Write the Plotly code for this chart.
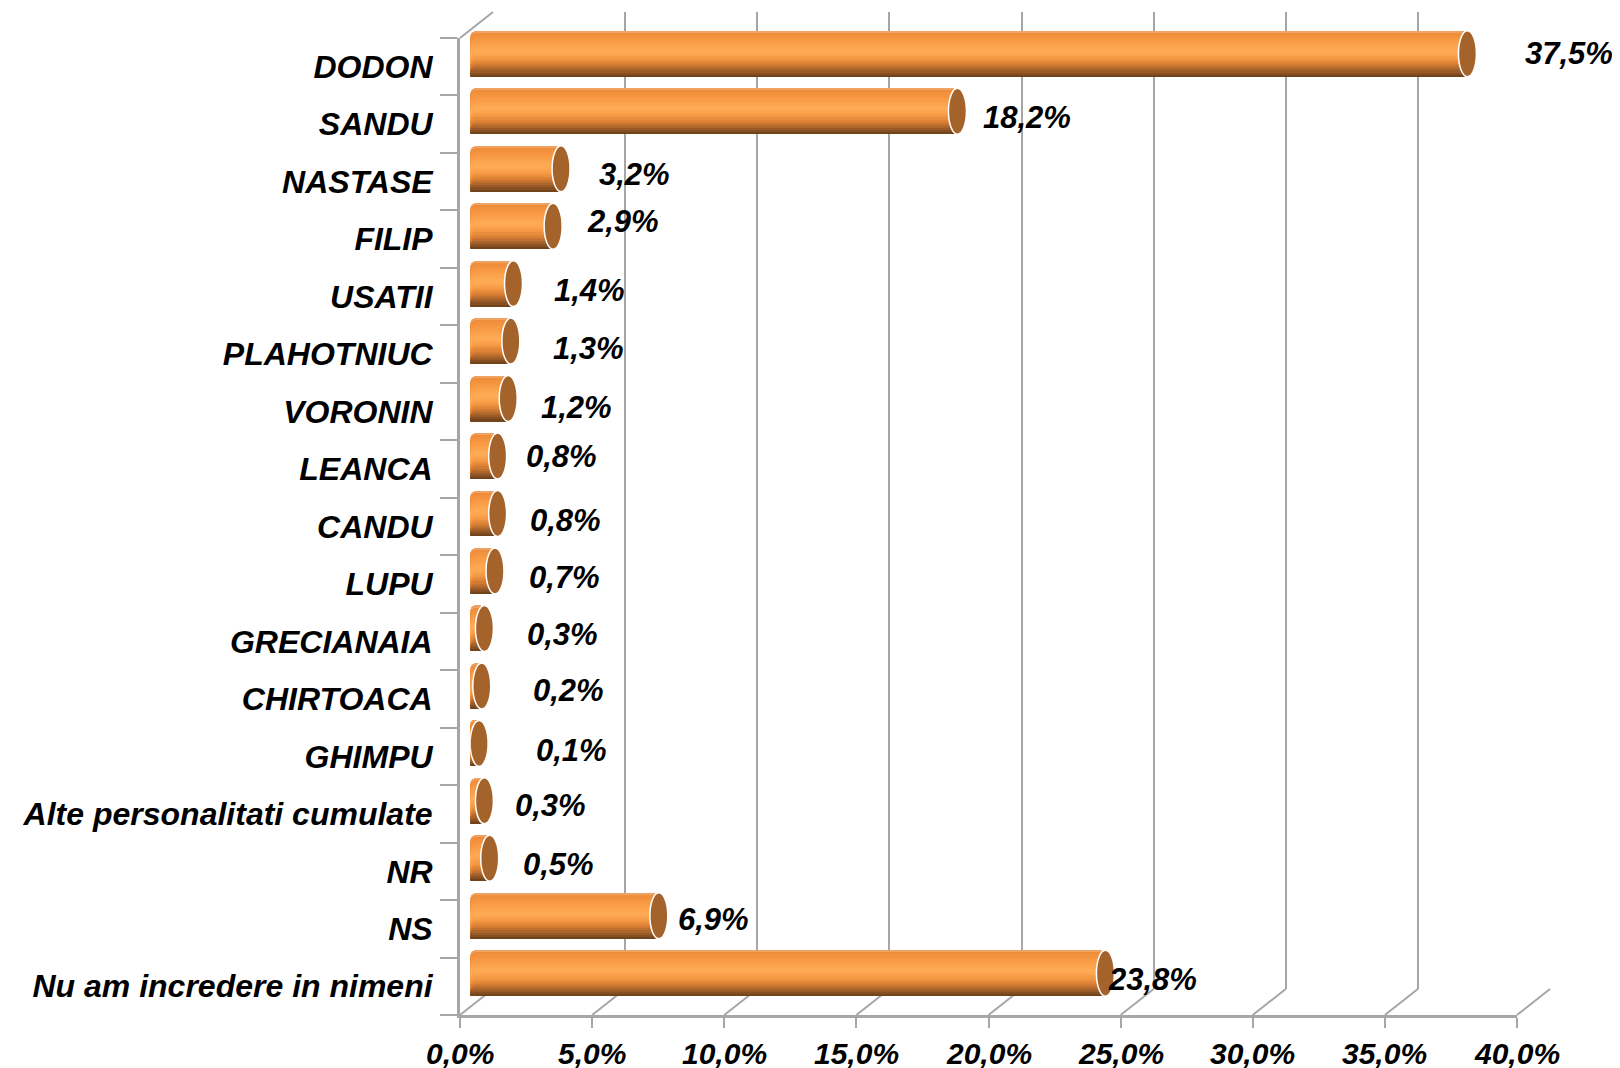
import plotly.graph_objects as go

# ---------------- data ----------------
categories = ["DODON", "SANDU", "NASTASE", "FILIP", "USATII", "PLAHOTNIUC",
              "VORONIN", "LEANCA", "CANDU", "LUPU", "GRECIANAIA", "CHIRTOACA",
              "GHIMPU", "Alte personalitati cumulate", "NR", "NS",
              "Nu am incredere in nimeni"]
values = [37.5, 18.2, 3.2, 2.9, 1.4, 1.3, 1.2, 0.8, 0.8, 0.7, 0.3, 0.2,
          0.1, 0.3, 0.5, 6.9, 23.8]
value_labels = ["37,5%", "18,2%", "3,2%", "2,9%", "1,4%", "1,3%", "1,2%",
                "0,8%", "0,8%", "0,7%", "0,3%", "0,2%", "0,1%", "0,3%",
                "0,5%", "6,9%", "23,8%"]
x_ticks = [0, 5, 10, 15, 20, 25, 30, 35, 40]
x_tick_labels = ["0,0%", "5,0%", "10,0%", "15,0%", "20,0%", "25,0%",
                 "30,0%", "35,0%", "40,0%"]

# ---------------- layout helpers (pixels of the browser window) ----------------
W, H = 1620, 1068
PAGE = 8                    # default body margin of the html page
FX0, FX1 = 460, 1517        # front plane x for 0 .. 40
FY0, FY1 = 38, 1015         # front plane top / bottom
DX, DY = 33, -26            # depth offset to back plane
TICK_LABEL_Y = 1053
XMAX = 40
N = len(categories)
BAR_START = -0.24           # cylinder's rounded back end sticks out a little
UNIT = (FX1 - FX0) / XMAX   # px per percentage point
# label nudges (layout only)
label_gap = [56, 24, 36, 32, 39, 40, 31, 26, 30, 32, 41, 49, 55, 29, 31, 17, 1]
label_dy = [0, -6, -6, 5, -7, -7, -9, 0, -7, -7, -6, -5, -7, -5, -6, -4, -6]

FONT = "Liberation Sans, Arial, sans-serif"
GRID = "#A6A6A6"


def px(x):
    return (x - PAGE) / W


def py(y):
    return 1 - (y - PAGE) / H


def front_x(v):
    return FX0 + v * UNIT


fig = go.Figure()

ys = list(range(N))

# invisible anchor traces so that the front and back axes get drawn
fig.add_trace(go.Scatter(x=[0], y=[0], xaxis="x", yaxis="y", mode="markers",
                         marker=dict(opacity=0), hoverinfo="skip", showlegend=False))
fig.add_trace(go.Scatter(x=[0], y=[0], xaxis="x2", yaxis="y2", mode="markers",
                         marker=dict(opacity=0), hoverinfo="skip", showlegend=False))

# ---------- cylinder bars: overlay slices for a vertical gradient ----------
stops = [(0.00, (238, 176, 125)), (0.06, (238, 140, 58)), (0.25, (250, 156, 70)),
         (0.45, (255, 172, 88)), (0.60, (246, 154, 68)), (0.75, (210, 122, 50)),
         (0.88, (156, 92, 40)), (1.00, (104, 62, 24))]


def color_at(t):
    for (t0, c0), (t1, c1) in zip(stops[:-1], stops[1:]):
        if t0 <= t <= t1:
            f = (t - t0) / (t1 - t0) if t1 > t0 else 0
            c = [round(a + (b - a) * f) for a, b in zip(c0, c1)]
            return "rgb(%d,%d,%d)" % tuple(c)
    return "rgb(%d,%d,%d)" % stops[-1][1]


BAR_W = 0.8
NS = 22
bar_len = [v - BAR_START for v in values]
for k in range(NS):
    t0 = k / NS
    fig.add_trace(go.Bar(
        x=bar_len, y=ys, base=BAR_START, orientation="h",
        xaxis="x3", yaxis="y3",
        width=(1 - t0) * BAR_W, offset=-BAR_W / 2 + t0 * BAR_W,
        marker=dict(color=color_at(t0 + 0.5 / NS), line=dict(width=0),
                    cornerradius=6),
        hoverinfo="skip", showlegend=False,
    ))

shapes = []
# end caps (ellipses)
cap = 0.34
for i, v in enumerate(values):
    shapes.append(dict(type="circle", xref="x3", yref="y3",
                       x0=v - cap, x1=v + cap, y0=i - BAR_W / 2, y1=i + BAR_W / 2,
                       fillcolor="#A5632C", line=dict(color="white", width=1.5),
                       layer="above"))

# depth diagonals on the floor and top-left corner
for v in x_ticks:
    shapes.append(dict(type="line", xref="paper", yref="paper",
                       x0=px(front_x(v)), y0=py(FY1),
                       x1=px(front_x(v) + DX), y1=py(FY1 + DY),
                       line=dict(color=GRID, width=2), layer="below"))
shapes.append(dict(type="line", xref="paper", yref="paper",
                   x0=px(FX0), y0=py(FY0), x1=px(FX0 + DX), y1=py(FY0 + DY),
                   line=dict(color=GRID, width=2), layer="below"))

annotations = []
# value labels
for i, (v, lab) in enumerate(zip(values, value_labels)):
    annotations.append(dict(x=v, y=i, xref="x3", yref="y3", text=lab,
                            showarrow=False, xanchor="left", yanchor="middle",
                            xshift=label_gap[i], yshift=label_dy[i],
                            font=dict(family=FONT, size=31, color="black",
                                      weight="bold", style="italic")))
# x tick labels
for v, lab in zip(x_ticks, x_tick_labels):
    annotations.append(dict(x=v, y=py(TICK_LABEL_Y), xref="x", yref="paper",
                            text=lab, showarrow=False, xanchor="center",
                            yanchor="middle",
                            font=dict(family=FONT, size=30, color="black",
                                      weight="bold", style="italic")))

yrange = [N - 0.5, -0.5]

fig.update_layout(
    width=W, height=H,
    margin=dict(l=0, r=0, t=0, b=0, autoexpand=False),
    paper_bgcolor="white", plot_bgcolor="rgba(0,0,0,0)",
    barmode="overlay", bargap=0,
    showlegend=False,
    shapes=shapes, annotations=annotations,
    # front plane axes
    xaxis=dict(domain=[px(FX0), px(FX1)], range=[0, XMAX], anchor="y",
               automargin=False,
               tickvals=x_ticks, showticklabels=False,
               ticks="outside", ticklen=10, tickwidth=2, tickcolor=GRID,
               showline=True, linecolor=GRID, linewidth=3,
               showgrid=False, zeroline=False),
    yaxis=dict(domain=[py(FY1), py(FY0)], range=yrange, anchor="x",
               automargin=False,
               tickvals=ys, ticktext=categories, ticks="",
               showline=True, linecolor=GRID, linewidth=3,
               showgrid=False, zeroline=False, ticklabelstandoff=18,
               minor=dict(ticks="outside", ticklen=17, tickwidth=2,
                          tickcolor=GRID, tick0=-0.5, dtick=1, showgrid=False),
               tickfont=dict(family=FONT, size=32, color="black",
                             weight="bold", style="italic")),
    # back plane (gridlines)
    xaxis2=dict(domain=[px(FX0 + DX), px(FX1 + DX)], range=[0, XMAX], anchor="y2",
                automargin=False,
                tickvals=x_ticks, showticklabels=False, ticks="",
                showgrid=True, gridcolor=GRID, gridwidth=2,
                showline=False, zeroline=False),
    yaxis2=dict(domain=[py(FY1 + DY), py(FY0 + DY)], range=yrange, anchor="x2",
                automargin=False,
                showticklabels=False, ticks="", showgrid=False,
                showline=False, zeroline=False),
    # middle plane (bars), extended slightly left for the rounded back end
    xaxis3=dict(domain=[px(FX0 + DX / 2 + BAR_START * UNIT), px(FX1 + DX / 2)],
                range=[BAR_START, XMAX],
                anchor="y3", visible=False, automargin=False),
    yaxis3=dict(domain=[py(FY1 + DY / 2), py(FY0 + DY / 2)], range=yrange,
                anchor="x3", visible=False, automargin=False),
)

fig.write_html("out.html")
